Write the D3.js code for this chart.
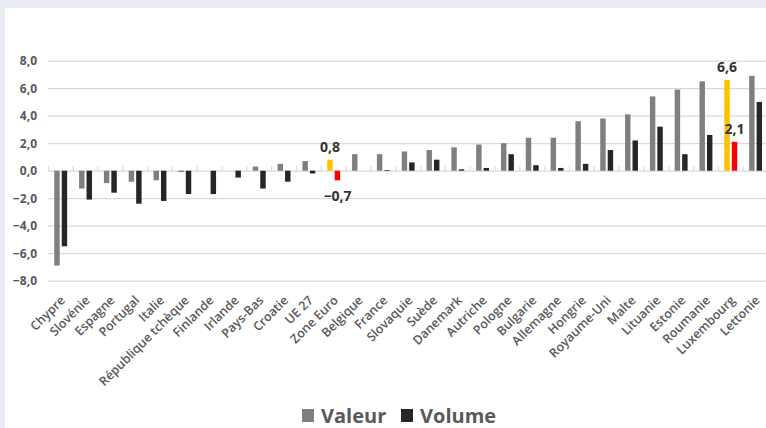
<!DOCTYPE html>
<html>
<head>
<meta charset="utf-8">
<script src="https://cdn.jsdelivr.net/npm/d3@7"></script>
<style>
  body { margin: 0; background: #e9ecf4; }
  svg { display: block; }
</style>
</head>
<body>
<script>
// data
const categories = ["Chypre", "Slovénie", "Espagne", "Portugal", "Italie", "République tchèque",
  "Finlande", "Irlande", "Pays-Bas", "Croatie", "UE 27", "Zone Euro", "Belgique", "France",
  "Slovaquie", "Suède", "Danemark", "Autriche", "Pologne", "Bulgarie", "Allemagne", "Hongrie",
  "Royaume-Uni", "Malte", "Lituanie", "Estonie", "Roumanie", "Luxembourg", "Lettonie"];
const valeur = [-6.9, -1.3, -0.9, -0.8, -0.7, -0.1, 0.0, 0.0, 0.3, 0.5, 0.7, 0.8, 1.2, 1.2,
  1.4, 1.5, 1.7, 1.9, 2.0, 2.4, 2.4, 3.6, 3.8, 4.1, 5.4, 5.9, 6.5, 6.6, 6.9];
const volume = [-5.5, -2.1, -1.6, -2.4, -2.2, -1.7, -1.7, -0.5, -1.3, -0.8, -0.2, -0.7, 0.0, 0.05,
  0.6, 0.8, 0.1, 0.2, 1.2, 0.4, 0.2, 0.5, 1.5, 2.2, 3.2, 1.2, 2.6, 2.1, 5.0];
const series = ["Valeur", "Volume"];
const yTicks = [-8, -6, -4, -2, 0, 2, 4, 6, 8];
const labelled = ["Zone Euro", "Luxembourg"];   // bars with highlighted colours + labels

const W = 766, H = 428;
const colors = { Valeur: "#7f7f7f", Volume: "#262626" };
const hiColors = { Valeur: "#ffc000", Volume: "#ff0000" };

const fr = d3.formatLocale({ decimal: ",", thousands: " ", grouping: [3], currency: ["", " €"] });
const fmt = fr.format(".1f");

const svg = d3.select("body").append("svg")
  .attr("width", W).attr("height", H);

// white panel
svg.append("rect").attr("x", 5).attr("y", 8).attr("width", W - 5).attr("height", H - 8)
  .attr("fill", "#fff");

const x = d3.scaleBand().domain(categories).range([48.3, 768]);
const xs = d3.scaleBand().domain(series)
  .range([x.bandwidth() * 0.24, x.bandwidth() * 0.76]).paddingInner(0.27);
const y = d3.scaleLinear().domain([-8, 8]).range([280.7, 60.7]);

// gridlines + y labels
const yAxis = svg.append("g")
  .attr("transform", "translate(48,0)")
  .call(d3.axisLeft(y).tickValues(yTicks).tickFormat(fmt).tickSize(-(W - 48)).tickPadding(11));
yAxis.select(".domain").remove();
yAxis.selectAll("line").attr("stroke", "#d9d9d9").attr("stroke-width", 1.2);
yAxis.selectAll("text")
  .attr("fill", "#595959")
  .style("font-family", "'Open Sans', sans-serif")
  .style("font-size", "12px")
  .style("font-weight", "bold");

// category tick marks on the zero line
svg.append("g").selectAll("line")
  .data(categories.concat([null]))
  .join("line")
  .attr("x1", d => d === null ? x.range()[1] : x(d))
  .attr("x2", d => d === null ? x.range()[1] : x(d))
  .attr("y1", y(0)).attr("y2", y(0) - 4.5)
  .attr("stroke", "#d9d9d9").attr("stroke-width", 1.2);

// bars
const rows = categories.map((c, i) => ({ cat: c, Valeur: valeur[i], Volume: volume[i] }));
const groups = svg.append("g").selectAll("g")
  .data(rows).join("g")
  .attr("transform", d => `translate(${x(d.cat)},0)`);

groups.selectAll("rect")
  .data(d => series.map(s => ({ s, v: d[s], cat: d.cat })))
  .join("rect")
  .attr("x", d => xs(d.s))
  .attr("width", xs.bandwidth())
  .attr("y", d => y(Math.max(0, d.v)))
  .attr("height", d => Math.abs(y(d.v) - y(0)))
  .attr("fill", d => labelled.includes(d.cat) ? hiColors[d.s] : colors[d.s]);

// data labels on highlighted bars
groups.filter(d => labelled.includes(d.cat)).selectAll("text.val")
  .data(d => series.map(s => ({ s, v: d[s] })))
  .join("text")
  .attr("class", "val")
  .attr("x", d => xs(d.s) + xs.bandwidth() / 2)
  .attr("y", d => d.v >= 0 ? y(d.v) - 13 : y(d.v) + 16)
  .attr("dy", "0.35em")
  .attr("text-anchor", "middle")
  .attr("fill", "#333")
  .style("font-family", "'Open Sans', sans-serif")
  .style("font-size", "14px")
  .style("font-weight", "bold")
  .text(d => fmt(d.v));

// x labels, rotated
svg.append("g").selectAll("text")
  .data(categories).join("text")
  .attr("transform", d => `translate(${x(d) + x.bandwidth() / 2 + 2},298) rotate(-45)`)
  .attr("text-anchor", "end")
  .attr("dy", "0.35em")
  .attr("fill", "#595959")
  .style("font-family", "'Open Sans', sans-serif")
  .style("font-size", "12.5px")
  .style("font-weight", "600")
  .text(d => d);

// legend
const legend = svg.append("g").selectAll("g")
  .data([{ s: "Valeur", x: 302 }, { s: "Volume", x: 401 }])
  .join("g")
  .attr("transform", d => `translate(${d.x},409)`);
legend.append("rect").attr("width", 12).attr("height", 13).attr("fill", d => colors[d.s]);
legend.append("text")
  .attr("x", 19).attr("y", 14)
  .attr("fill", "#595959")
  .style("font-family", "'Open Sans', sans-serif")
  .style("font-size", "20px")
  .style("font-weight", "bold")
  .text(d => d.s);
</script>
</body>
</html>
